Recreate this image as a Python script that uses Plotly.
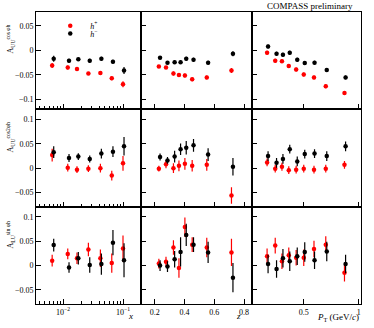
import plotly.graph_objects as go
from plotly.subplots import make_subplots

# kinematic bins (h+ / h- slightly shifted in the original)
x_pos = [0.0066, 0.0120, 0.0171, 0.0265, 0.042, 0.065, 0.100]
x_neg = [0.0070, 0.0126, 0.0180, 0.0279, 0.0436, 0.068, 0.104]
z_pos = [0.227, 0.275, 0.325, 0.362, 0.402, 0.451, 0.549, 0.715]
z_neg = [0.235, 0.285, 0.333, 0.373, 0.411, 0.460, 0.558, 0.725]
pt_pos = [0.167, 0.241, 0.302, 0.364, 0.431, 0.500, 0.593, 0.700, 0.870]
pt_neg = [0.176, 0.253, 0.311, 0.373, 0.441, 0.509, 0.598, 0.709, 0.880]

# A_UU^cos(phi_h)
uu_cos_x_pos = [-0.031, -0.035, -0.038, -0.047, -0.046, -0.057, -0.069]
uu_cos_x_pos_err = [0.005, 0.004, 0.003, 0.003, 0.004, 0.004, 0.006]
uu_cos_x_neg = [-0.017, -0.021, -0.018, -0.021, -0.017, -0.023, -0.041]
uu_cos_x_neg_err = [0.006, 0.004, 0.003, 0.004, 0.004, 0.004, 0.007]
uu_cos_z_pos = [-0.033, -0.035, -0.047, -0.050, -0.051, -0.059, -0.055, -0.041]
uu_cos_z_pos_err = [0.003, 0.003, 0.004, 0.004, 0.004, 0.004, 0.004, 0.005]
uu_cos_z_neg = [-0.015, -0.025, -0.024, -0.024, -0.017, -0.019, -0.025, -0.007]
uu_cos_z_neg_err = [0.003, 0.003, 0.004, 0.004, 0.004, 0.004, 0.004, 0.005]
uu_cos_pt_pos = [-0.005, -0.021, -0.022, -0.032, -0.039, -0.049, -0.055, -0.073, -0.087]
uu_cos_pt_pos_err = [0.004, 0.004, 0.004, 0.004, 0.004, 0.004, 0.004, 0.004, 0.004]
uu_cos_pt_neg = [0.008, -0.007, -0.009, -0.005, -0.019, -0.026, -0.025, -0.040, -0.055]
uu_cos_pt_neg_err = [0.004, 0.004, 0.004, 0.004, 0.004, 0.004, 0.004, 0.004, 0.004]

# A_UU^cos(2phi_h)
uu_cos2_x_pos = [0.027, 0.001, -0.003, -0.001, 0.000, -0.015, 0.010]
uu_cos2_x_pos_err = [0.013, 0.008, 0.007, 0.007, 0.009, 0.010, 0.015]
uu_cos2_x_neg = [0.033, 0.021, 0.024, 0.019, 0.030, 0.034, 0.045]
uu_cos2_x_neg_err = [0.012, 0.008, 0.007, 0.007, 0.010, 0.011, 0.019]
uu_cos2_z_pos = [-0.001, 0.008, 0.000, 0.005, 0.009, 0.005, 0.007, -0.056]
uu_cos2_z_pos_err = [0.006, 0.008, 0.010, 0.011, 0.012, 0.012, 0.012, 0.017]
uu_cos2_z_neg = [0.023, 0.016, 0.024, 0.039, 0.042, 0.047, 0.028, 0.003]
uu_cos2_z_neg_err = [0.007, 0.007, 0.012, 0.012, 0.014, 0.013, 0.013, 0.018]
uu_cos2_pt_pos = [0.012, -0.001, 0.003, -0.004, -0.003, -0.001, -0.003, -0.001, 0.007]
uu_cos2_pt_pos_err = [0.008, 0.008, 0.008, 0.008, 0.008, 0.008, 0.008, 0.008, 0.008]
uu_cos2_pt_neg = [0.025, 0.011, 0.019, 0.039, 0.014, 0.029, 0.030, 0.025, 0.045]
uu_cos2_pt_neg_err = [0.010, 0.010, 0.010, 0.009, 0.010, 0.009, 0.009, 0.010, 0.010]

# A_LU^sin(phi_h)
lu_sin_x_pos = [0.010, 0.024, 0.015, 0.033, 0.015, 0.005, 0.035]
lu_sin_x_pos_err = [0.012, 0.011, 0.012, 0.014, 0.018, 0.020, 0.027]
lu_sin_x_neg = [0.042, -0.004, 0.015, 0.001, 0.003, 0.047, 0.011]
lu_sin_x_neg_err = [0.013, 0.011, 0.013, 0.016, 0.022, 0.026, 0.035]
lu_sin_z_pos = [0.004, 0.008, 0.037, -0.005, 0.079, 0.043, 0.037, 0.027]
lu_sin_z_pos_err = [0.010, 0.010, 0.015, 0.020, 0.020, 0.015, 0.020, 0.028]
lu_sin_z_neg = [0.000, -0.002, 0.013, 0.028, 0.063, 0.043, 0.027, -0.025]
lu_sin_z_neg_err = [0.011, 0.011, 0.017, 0.030, 0.023, 0.015, 0.022, 0.030]
lu_sin_pt_pos = [0.019, 0.041, 0.009, 0.021, 0.016, 0.016, 0.034, 0.043, -0.015]
lu_sin_pt_pos_err = [0.016, 0.016, 0.016, 0.016, 0.016, 0.017, 0.017, 0.017, 0.018]
lu_sin_pt_neg = [0.003, -0.007, 0.015, 0.009, 0.019, 0.028, 0.011, 0.029, 0.003]
lu_sin_pt_neg_err = [0.019, 0.018, 0.019, 0.020, 0.018, 0.020, 0.018, 0.020, 0.019]

FONT = "Liberation Serif"
RED = "#ff0000"
BLACK = "#000000"

fig = make_subplots(rows=3, cols=3, horizontal_spacing=0, vertical_spacing=0,
                    column_widths=[105, 111, 109])

panels = [
    (1, 1, x_pos, uu_cos_x_pos, uu_cos_x_pos_err, x_neg, uu_cos_x_neg, uu_cos_x_neg_err),
    (1, 2, z_pos, uu_cos_z_pos, uu_cos_z_pos_err, z_neg, uu_cos_z_neg, uu_cos_z_neg_err),
    (1, 3, pt_pos, uu_cos_pt_pos, uu_cos_pt_pos_err, pt_neg, uu_cos_pt_neg, uu_cos_pt_neg_err),
    (2, 1, x_pos, uu_cos2_x_pos, uu_cos2_x_pos_err, x_neg, uu_cos2_x_neg, uu_cos2_x_neg_err),
    (2, 2, z_pos, uu_cos2_z_pos, uu_cos2_z_pos_err, z_neg, uu_cos2_z_neg, uu_cos2_z_neg_err),
    (2, 3, pt_pos, uu_cos2_pt_pos, uu_cos2_pt_pos_err, pt_neg, uu_cos2_pt_neg, uu_cos2_pt_neg_err),
    (3, 1, x_pos, lu_sin_x_pos, lu_sin_x_pos_err, x_neg, lu_sin_x_neg, lu_sin_x_neg_err),
    (3, 2, z_pos, lu_sin_z_pos, lu_sin_z_pos_err, z_neg, lu_sin_z_neg, lu_sin_z_neg_err),
    (3, 3, pt_pos, lu_sin_pt_pos, lu_sin_pt_pos_err, pt_neg, lu_sin_pt_neg, lu_sin_pt_neg_err),
]

for r, c, xp, yp, ep, xn, yn, en in panels:
    first = (r == 1 and c == 1)
    fig.add_hline(y=0, row=r, col=c, line=dict(color="#555555", width=1, dash="dashdot"))
    fig.add_trace(go.Scatter(x=xp, y=yp, mode="markers", name="<i>h</i><sup>+</sup>",
                             showlegend=first, legend="legend",
                             marker=dict(color=RED, size=4.5, symbol="circle"),
                             error_y=dict(type="data", array=ep, color=RED, thickness=1.2, width=0)),
                  row=r, col=c)
    fig.add_trace(go.Scatter(x=xn, y=yn, mode="markers", name="<i>h</i><sup>−</sup>",
                             showlegend=first, legend="legend2",
                             marker=dict(color=BLACK, size=4.5, symbol="circle"),
                             error_y=dict(type="data", array=en, color=BLACK, thickness=1.2, width=0)),
                  row=r, col=c)

axis_common = dict(showline=True, linecolor="black", linewidth=1, mirror=True,
                   ticks="inside", ticklen=5, tickcolor="black", showgrid=False, zeroline=False,
                   tickfont=dict(family=FONT, size=8, color="black"))

for r in range(1, 4):
    for c in range(1, 4):
        showx = (r == 3)
        if c == 1:
            fig.update_xaxes(type="log", range=[-2.45, -0.7], tickvals=[0.01, 0.1],
                             ticktext=["10<sup>−2</sup>", "10<sup>−1</sup>"],
                             minor=dict(ticks="inside", ticklen=3, tickcolor="black",
                                        tickvals=[0.004, 0.005, 0.006, 0.007, 0.008, 0.009,
                                                  0.02, 0.03, 0.04, 0.05, 0.06, 0.07, 0.08, 0.09, 0.2]),
                             showticklabels=showx, row=r, col=c, **axis_common)
        elif c == 2:
            fig.update_xaxes(range=[0.107, 0.853], tickvals=[0.2, 0.4, 0.6, 0.8],
                             showticklabels=showx, row=r, col=c, **axis_common)
        else:
            fig.update_xaxes(range=[0.03, 1.02], tickvals=[0.5, 1],
                             showticklabels=showx, row=r, col=c, **axis_common)
        yr = [-0.12, 0.078] if r == 1 else [-0.079, 0.121]
        fig.update_yaxes(range=yr, dtick=0.05, tick0=0, showticklabels=(c == 1),
                         row=r, col=c, **axis_common)

ylabels = [
    ("A<sub>UU</sub><sup>cos φh</sup>", 1.0 - 28 / 298),
    ("A<sub>UU</sub><sup>cos2φh</sup>", 1.0 - 128 / 298),
    ("A<sub>LU</sub><sup>sin φh</sup>", 1.0 - 228 / 298),
]
annotations = []
for text, yy in ylabels:
    annotations.append(dict(text=text, xref="paper", yref="paper", x=-26 / 325, y=yy,
                            textangle=-90, showarrow=False, xanchor="center", yanchor="middle",
                            font=dict(family=FONT, size=8, color="black")))

for text, xx, shift in [("<i>x</i>", 99 / 325, -5), ("<i>z</i>", 207 / 325, -5),
                        ("<i>P</i><sub>T</sub> (GeV/<i>c</i>)", 1.0, -6)]:
    annotations.append(dict(text=text, xref="paper", yref="paper", x=xx, y=0,
                            xanchor="right", yanchor="top", yshift=shift, showarrow=False,
                            font=dict(family=FONT, size=9, color="black")))

annotations.append(dict(text="COMPASS preliminary", xref="paper", yref="paper",
                        x=274 / 325, y=1.0 + 6 / 298, xanchor="center", yanchor="middle",
                        showarrow=False, font=dict(family=FONT, size=9, color="black")))

leg_common = dict(xanchor="left", yanchor="middle", bgcolor="rgba(0,0,0,0)",
                  font=dict(family=FONT, size=8, color="black"), itemwidth=30,
                  indentation=-15)

fig.update_layout(
    width=374, height=328,
    margin=dict(l=36, r=13, t=11, b=19),
    paper_bgcolor="white", plot_bgcolor="white",
    font=dict(family=FONT, size=9, color="black"),
    annotations=annotations,
    legend=dict(x=0.09, y=1.0 - 14 / 298, **leg_common),
    legend2=dict(x=0.09, y=1.0 - 22 / 298, **leg_common),
)

# page body has a default 8px margin; remove it so the figure fills the window
fig.write_html("out.html", config={"displayModeBar": False},
               post_script="document.body.style.margin='0';")
